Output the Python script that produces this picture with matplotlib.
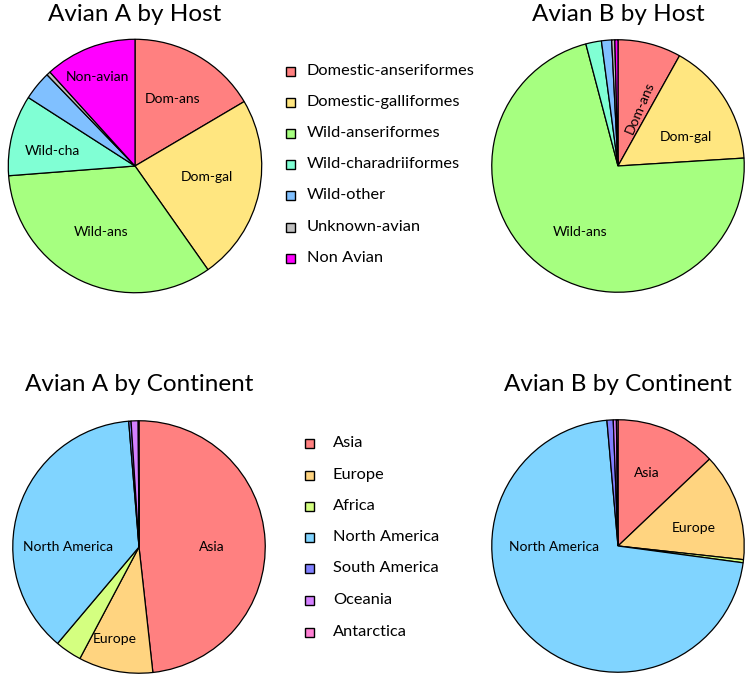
import matplotlib
matplotlib.use("Agg")
import matplotlib.pyplot as plt

plt.rcParams['font.family'] = ['Lato', 'DejaVu Sans']

# ---------------- data ----------------
host_labels = ["Domestic-anseriformes", "Domestic-galliformes", "Wild-anseriformes",
               "Wild-charadriiformes", "Wild-other", "Unknown-avian", "Non Avian"]
host_short = ["Dom-ans", "Dom-gal", "Wild-ans", "Wild-cha", "", "", "Non-avian"]
host_colors = ["#FF8080", "#FFE680", "#A6FF80", "#80FFD4", "#80C0FF", "#BFBFBF", "#FF00FF"]
avianA_host = [16.5, 23.7, 33.5, 10.3, 3.7, 0.5, 11.7]
avianB_host = [8.1, 15.9, 71.9, 2.0, 1.3, 0.4, 0.4]

cont_labels = ["Asia", "Europe", "Africa", "North America", "South America", "Oceania", "Antarctica"]
cont_colors = ["#FF8080", "#FFD480", "#D4FF80", "#80D4FF", "#8080FF", "#D480FF", "#FF80D4"]
avianA_cont = [48.2, 9.5, 3.4, 37.5, 0.3, 0.9, 0.1]
avianB_cont = [12.9, 13.8, 0.4, 71.4, 0.8, 0.4, 0.2]

titles = ["Avian A by Host", "Avian B by Host", "Avian A by Continent", "Avian B by Continent"]

# ---------------- layout ----------------
W, H = 750, 681
fig = plt.figure(figsize=(W / 100, H / 100), dpi=100)

def pie_axes(cx, cy, r):
    return fig.add_axes([(cx - r) / W, 1 - (cy + r) / H, 2 * r / W, 2 * r / H])

# label positions in units of radius relative to pie centre (x, y, rotation)
lab_pos = {
    0: {"Dom-ans": (0.30, 0.53, 0), "Dom-gal": (0.57, -0.09, 0), "Wild-ans": (-0.27, -0.52, 0),
        "Wild-cha": (-0.65, 0.12, 0), "Non-avian": (-0.30, 0.70, 0)},
    1: {"Dom-ans": (0.17, 0.46, 67), "Dom-gal": (0.54, 0.23, 0), "Wild-ans": (-0.30, -0.52, 0)},
    2: {"Asia": (0.58, 0.0, 0), "Europe": (-0.19, -0.73, 0), "North America": (-0.56, 0.0, 0)},
    3: {"Asia": (0.23, 0.58, 0), "Europe": (0.60, 0.14, 0), "North America": (-0.51, -0.01, 0)},
}

specs = [
    (135, 166, 128, avianA_host, host_colors, host_short, 0),
    (618, 166, 127.5, avianB_host, host_colors, host_short, 1),
    (139, 547, 127.5, avianA_cont, cont_colors, cont_labels, 2),
    (618, 546, 127.5, avianB_cont, cont_colors, cont_labels, 3),
]
title_y = [21, 21, 391, 391]

for (cx, cy, r, vals, cols, labs, k) in specs:
    ax = pie_axes(cx, cy, r)
    ax.pie(vals, colors=cols, startangle=90, counterclock=False, radius=1.0,
           wedgeprops=dict(edgecolor="black", linewidth=0.9))
    ax.set_xlim(-1.01, 1.01)
    ax.set_ylim(-1.01, 1.01)
    ax.set_aspect("equal")
    ax.axis("off")
    for name, (x, y, rot) in lab_pos[k].items():
        ax.text(x, y, name, ha="center", va="center", fontsize=10, rotation=rot,
                color="black")
    fig.text(cx / W, 1 - title_y[k] / H, titles[k], ha="center", va="baseline",
             fontsize=17.5)

# legends
def legend(items, cols, x_mark, x_text, ys, msize):
    for name, c, y in zip(items, cols, ys):
        fy = 1 - y / H
        fig.patches.append(plt.Rectangle(((x_mark - msize / 2) / W, fy - msize / 2 / H),
                                         msize / W, msize / H, transform=fig.transFigure,
                                         facecolor=c, edgecolor="black", linewidth=1.0))
        fig.text(x_text / W, fy, name, ha="left", va="center", fontsize=11.8)

legend(host_labels, host_colors, 290, 307, [71, 102, 133, 164, 195, 227, 258], 9)
legend(cont_labels, cont_colors, 309, 333, [443, 475, 506, 537, 568, 600, 632], 9)

fig.savefig("out.png", dpi=100)
